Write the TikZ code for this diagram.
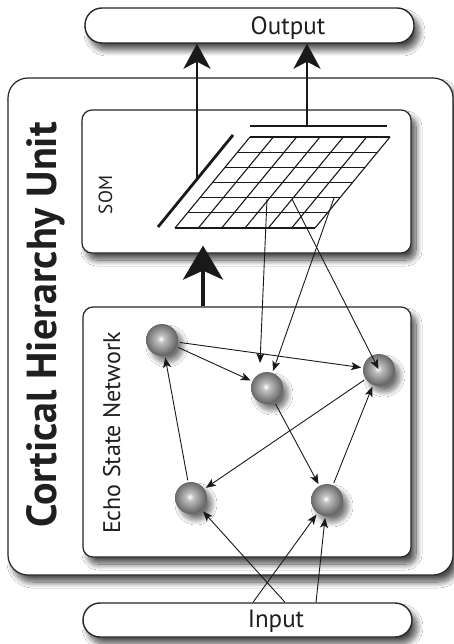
\documentclass[tikz,border=0pt]{standalone}
\usepackage{fontspec}
\setmainfont{PT Sans}
\usetikzlibrary{arrows.meta,shadows.blur}
\pgfdeclareradialshading{sph}{\pgfpoint{-2bp}{2bp}}{color(0bp)=(white); color(6bp)=(gray!50); color(26bp)=(gray!75!black); color(46bp)=(black!78); color(60bp)=(black!78)}
\begin{document}
\begin{tikzpicture}[x=1pt,y=-1pt,
  shd/.style={blur shadow={shadow xshift=5pt, shadow yshift=-7pt, shadow blur radius=6pt, shadow blur steps=14, shadow opacity=70}},
  box/.style={draw=black!85, line width=1.2pt, fill=white, rounded corners=10pt, shd, inner sep=0pt},
  pill/.style={draw=black!85, line width=1.4pt, fill=white, rounded corners=17pt, shd, inner sep=0pt},
  sphere/.style={circle, minimum size=32pt, inner sep=0pt, outer sep=2pt, shading=sph,
     blur shadow={shadow xshift=5pt, shadow yshift=-6pt, shadow blur radius=5pt, shadow blur steps=12, shadow opacity=55}},
  thinarr/.style={draw=black!90, line width=0.9pt, -{Stealth[length=10pt,width=8pt,inset=2.5pt]}},
  outarr/.style={draw=black!90, line width=2.6pt, -{Stealth[length=25pt,width=27pt,inset=7pt]}},
  bigarr/.style={draw=black!90, line width=4pt, -{Stealth[length=34pt,width=40pt,inset=9pt]}},
  barline/.style={draw=black!90, line width=2.8pt},
  gridline/.style={draw=black!90, line width=1.1pt},
  lbl/.style={inner sep=0pt, text=black!88}
]
\useasboundingbox (0,0) rectangle (454,644);
\fill[white] (0,0) rectangle (454,644);

% boxes
\node[box, rounded corners=20pt, minimum width=445pt, minimum height=497pt] (chu) at (230.5,326.5) {};
\node[box, minimum width=329pt, minimum height=143pt] (som) at (246.5,181.5) {};
\node[box, minimum width=328pt, minimum height=250pt] (esn) at (247,432) {};
\node[pill, minimum width=329pt, minimum height=35pt] (outbox) at (249.5,25.5) {};
\node[pill, minimum width=329pt, minimum height=34pt] (inbox) at (247.5,620) {};

% labels
\node[lbl, rotate=90, anchor=base] (chut) at (56,325) {\fontsize{42}{50}\selectfont\bfseries Cortical Hierarchy Unit};
\node[lbl, rotate=90, anchor=base] (somt) at (112,195) {\fontsize{19}{23}\selectfont SOM};
\node[lbl, rotate=90, anchor=base] (esnt) at (120,433) {\fontsize{24}{29}\selectfont Echo State Network};
\node[lbl, anchor=base] (outt) at (288,35) {\fontsize{25}{30}\selectfont Output};
\node[lbl, anchor=base] (int) at (276,627) {\fontsize{25}{30}\selectfont Input};

% SOM grid
\foreach \i in {0,...,6} {
  \draw[gridline] (175+\i*23.333,228) -- ++(75,-91);
  \draw[gridline] (175+\i*12.5,228-\i*15.167) -- ++(140,0);
}
\coordinate (sl1) at (233,135);
\coordinate (sl2) at (158,227);
\draw[barline] (sl1) -- (sl2);
\coordinate (b1) at (250,126);
\coordinate (b2) at (387,126);
\draw[barline] (b1) -- (b2);
\coordinate (lo) at (197,179);
\coordinate (ro) at (307,126);
\draw[outarr] (lo) -- (lo |- outbox.south);
\draw[outarr] (ro) -- (ro |- outbox.south);

% ESN -> SOM
\draw[bigarr, shorten >=-8pt] ([xshift=-44pt]esn.north) -- ([xshift=-43.5pt]som.south);

% spheres
\node[sphere] (n1) at (162,340) {};
\node[sphere] (n2) at (267,388) {};
\node[sphere] (n3) at (379,370) {};
\node[sphere] (n4) at (191,498) {};
\node[sphere] (n5) at (327,500) {};

% grid -> ESN
\coordinate (g1) at (267,199);
\coordinate (g2) at (292,199);
\coordinate (g3) at (334,198);
\draw[thinarr] (g1) -- ([shift={(-7pt,7pt)}]n2.north);
\draw[thinarr] (g3) -- (n2);
\draw[thinarr, shorten >=1pt] (g2) -- (n3.center);

% recurrent connections
\draw[thinarr] (n1) -- (n2);
\draw[thinarr] (n1) -- (n3);
\draw[thinarr] (n4) -- (n1);
\draw[thinarr] (n3) -- (n4);
\draw[thinarr] (n2) -- (n5);
\draw[thinarr] (n5) -- (n3);

% input connections
\draw[thinarr] ([xshift=37.5pt]inbox.north) -- (n4);
\draw[thinarr] ([xshift=5.5pt]inbox.north) -- (n5);
\draw[thinarr] ([xshift=68.5pt]inbox.north) -- (n5);
\end{tikzpicture}
\end{document}
